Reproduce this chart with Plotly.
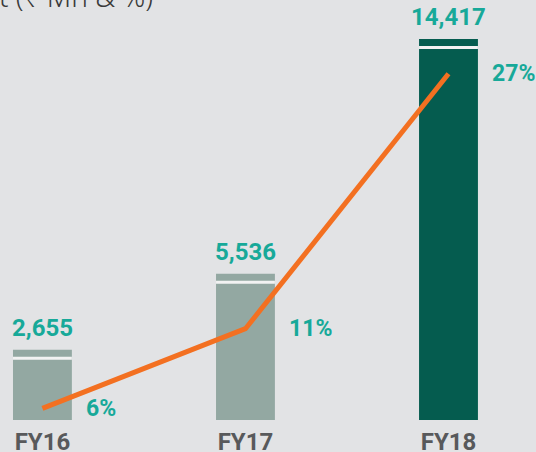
import plotly.graph_objects as go

years = ["FY16", "FY17", "FY18"]
profit = [2655, 5536, 14417]
margin_pct = [6, 11, 27]
bar_colors = ["#93a8a2", "#93a8a2", "#055c4f"]

W, H = 536, 452
PLOT_H = 420
Y_MAX = 15890
UNIT_PX = Y_MAX / PLOT_H  # data units per pixel on the bar axis

TEAL = "#17a999"
DARK = "#58595b"

xs = list(range(len(years)))

fig = go.Figure()
fig.add_trace(go.Bar(
    x=xs, y=profit, width=0.29, marker=dict(color=bar_colors, line=dict(width=0)),
    hoverinfo="skip", showlegend=False,
))
# thin light gap just under the top of each bar
fig.add_trace(go.Bar(
    x=xs, y=[3 * UNIT_PX] * len(profit), base=[v - 10 * UNIT_PX for v in profit],
    width=0.29, marker=dict(color="#f2f2f2", line=dict(width=0)),
    hoverinfo="skip", showlegend=False,
))
fig.add_trace(go.Scatter(
    x=xs, y=margin_pct, yaxis="y2", mode="lines",
    line=dict(color="#f37021", width=5), hoverinfo="skip", showlegend=False,
))

for i, (v, p) in enumerate(zip(profit, margin_pct)):
    fig.add_annotation(x=i, y=v, text=f"{v:,}", showarrow=False, yanchor="bottom", yshift=6,
                       font=dict(family="Roboto", size=24, color=TEAL, weight="bold"))
    fig.add_annotation(x=i, y=p, yref="y2", text=f"{p}%", showarrow=False, xanchor="left",
                       yanchor="middle", xshift=42,
                       font=dict(family="Roboto", size=23, color=TEAL, weight="bold"))

fig.add_annotation(xref="paper", yref="paper", x=0, y=1, xanchor="left", yanchor="middle", yshift=4,
                   xshift=-3, text="t (₹ Mn & %)", showarrow=False,
                   font=dict(family="Noto Sans", size=28, color="#3a3a3a", weight=300))

fig.update_layout(
    width=W, height=H, barmode="overlay",
    margin=dict(l=0, r=0, t=0, b=H - PLOT_H, autoexpand=False),
    paper_bgcolor="#e2e3e5", plot_bgcolor="#e2e3e5",
    xaxis=dict(range=[-0.209, 2.431], tickvals=xs, ticktext=years, showgrid=False, zeroline=False,
               showline=False, ticks="", automargin=False, ticklabelstandoff=5,
               tickfont=dict(family="Roboto", size=24, color=DARK, weight="bold")),
    yaxis=dict(range=[0, Y_MAX], visible=False),
    yaxis2=dict(range=[5.27, 31.63], overlaying="y", visible=False),
)

# page body has a default 8px margin; drop it so the figure fills the window
fig.write_html("out.html", config={"displayModeBar": False},
               post_script="document.body.style.margin='0';")
